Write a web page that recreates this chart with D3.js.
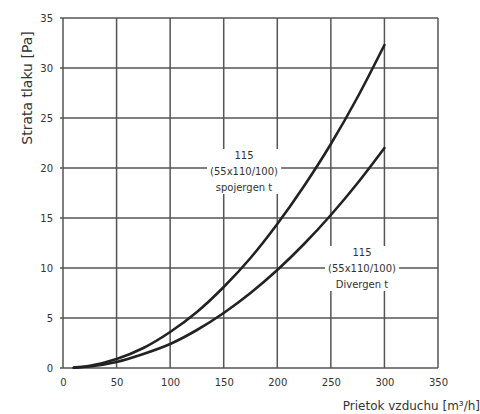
<!DOCTYPE html>
<html><head><meta charset="utf-8">
<script src="https://cdn.jsdelivr.net/npm/d3@7"></script>
<style>body{margin:0;background:#fff}svg{display:block}text{font-family:"DejaVu Sans",sans-serif;fill:#333}</style>
</head><body><svg id="c" width="480" height="414"></svg>
<script>
const flow = [10, 25, 50, 75, 100, 125, 150, 175, 200, 225, 250, 275, 300];
const spojenie = [0.04, 0.22, 0.9, 2.0, 3.6, 5.6, 8.1, 11.0, 14.4, 18.2, 22.4, 27.1, 32.3];
const divergent = [0.03, 0.15, 0.6, 1.4, 2.4, 3.8, 5.5, 7.5, 9.8, 12.4, 15.3, 18.5, 22.0];
const xTicks = [0, 50, 100, 150, 200, 250, 300, 350];
const yTicks = [0, 5, 10, 15, 20, 25, 30, 35];
const labelSpoj = ["115", "(55x110/100)", "spojergen t"];
const labelDiv = ["115", "(55x110/100)", "Divergen t"];

const svg = d3.select("#c");
const x = d3.scaleLinear().domain([0, 350]).range([63, 438]);
const y = d3.scaleLinear().domain([0, 35]).range([368, 18]);

const g = svg.append("g");
g.selectAll(".vx").data(xTicks).join("line")
  .attr("x1", d => x(d)).attr("x2", d => x(d)).attr("y1", y(0)).attr("y2", y(35))
  .attr("stroke", "#555").attr("stroke-width", 1.5);
g.selectAll(".hy").data(yTicks).join("line")
  .attr("y1", d => y(d)).attr("y2", d => y(d)).attr("x1", x(0) - 3).attr("x2", x(350))
  .attr("stroke", "#555").attr("stroke-width", 1.5);

const xAxis = d3.axisBottom(x).tickValues(xTicks).tickSize(0).tickPadding(11);
svg.append("g").attr("transform", `translate(0,${y(0)})`).call(xAxis)
  .call(s => s.select(".domain").remove())
  .selectAll("text").style("font-size", "10px").style("font-family", "DejaVu Sans").attr("fill", "#333");
const yAxis = d3.axisLeft(y).tickValues(yTicks).tickSize(0).tickPadding(10);
svg.append("g").attr("transform", `translate(${x(0)},0)`).call(yAxis)
  .call(s => s.select(".domain").remove())
  .selectAll("text").style("font-size", "10px").style("font-family", "DejaVu Sans").attr("fill", "#333");

const line = d3.line().x((d, i) => x(flow[i])).y(d => y(d)).curve(d3.curveMonotoneX);
[spojenie, divergent].forEach(s => {
  svg.append("path").attr("d", line(s)).attr("fill", "none")
    .attr("stroke", "#222").attr("stroke-width", 2.6).attr("stroke-linecap", "round");
});

function label(lines, cx, cy) {
  const lg = svg.append("g");
  const t = lg.append("text").attr("text-anchor", "middle").style("font-size", "10px");
  lines.forEach((l, i) => t.append("tspan").attr("x", cx).attr("y", cy + i * 16).text(l));
  const b = t.node().getBBox();
  lg.insert("rect", "text").attr("x", b.x - 3).attr("y", b.y - 1)
    .attr("width", b.width + 6).attr("height", b.height + 2).attr("fill", "#fff");
}
label(labelSpoj, 244, 159);
label(labelDiv, 362, 256);

svg.append("text").attr("transform", "translate(32,88) rotate(-90)")
  .attr("text-anchor", "middle").style("font-size", "14px").text("Strata tlaku [Pa]");
svg.append("text").attr("x", 480).attr("y", 410).attr("text-anchor", "end")
  .style("font-size", "12px").text("Prietok vzduchu [m³/h]");
</script></body></html>
